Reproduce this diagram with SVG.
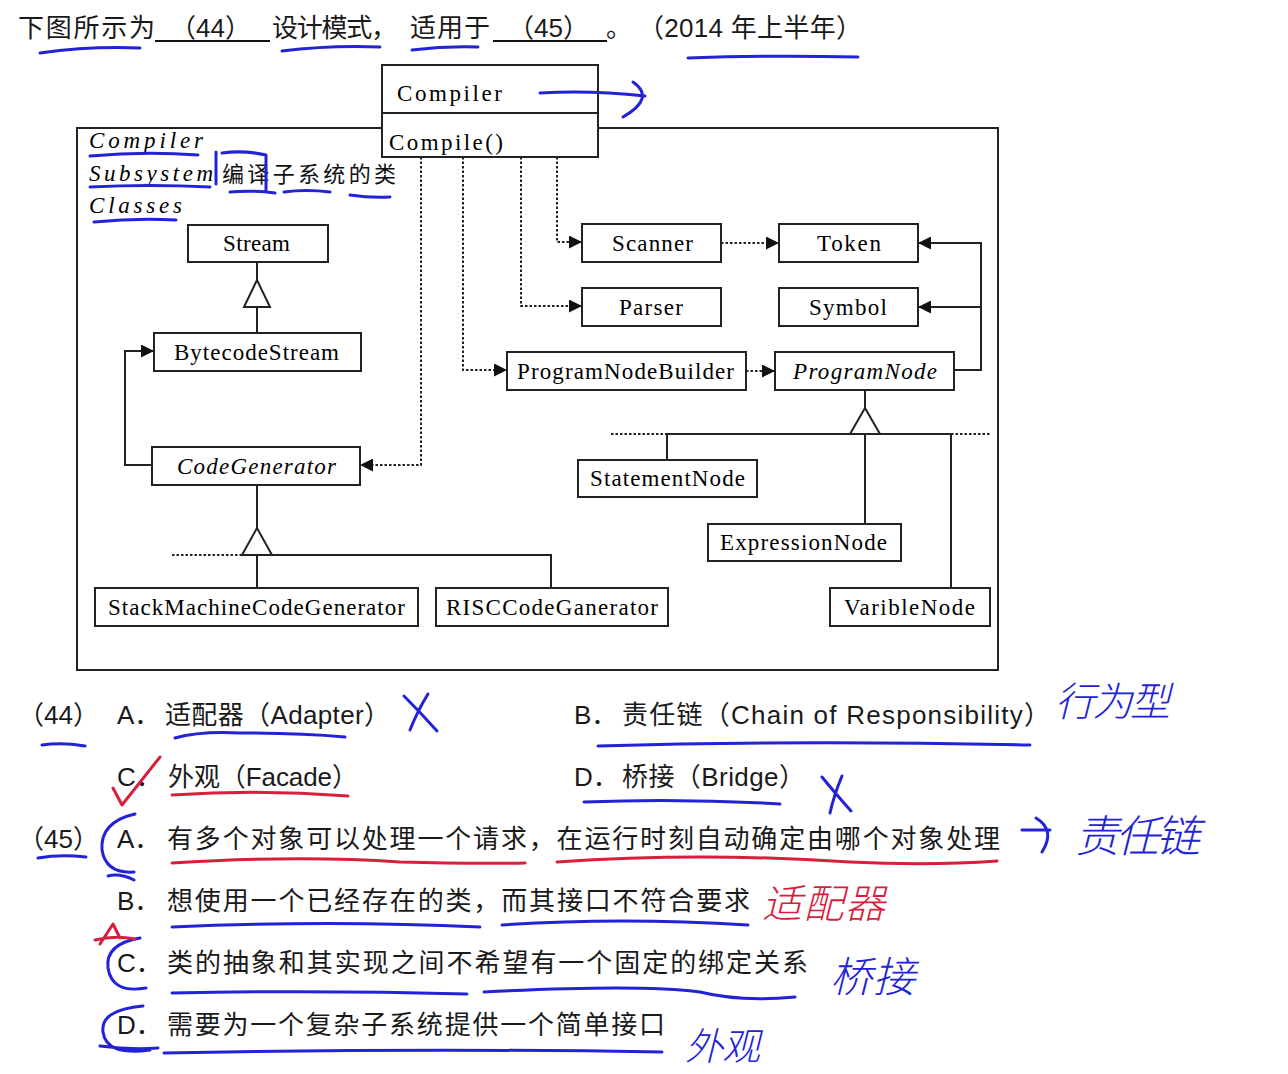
<svg xmlns="http://www.w3.org/2000/svg" width="1288" height="1074" viewBox="0 0 1288 1074">
<style>
.q{font-family:"Liberation Sans","Noto Sans CJK SC",sans-serif;font-size:26px;fill:#1a1a1a}
.box{fill:#fff;stroke:#222;stroke-width:2}
.lbl{font-family:"Liberation Serif","DejaVu Serif",serif;font-size:23px;fill:#000}
.it{font-style:italic}
.ln{fill:none;stroke:#222;stroke-width:2}
.dot{fill:none;stroke:#222;stroke-width:2;stroke-dasharray:2.5 2}
.tri{fill:#fff;stroke:#222;stroke-width:2}
.pen{fill:none;stroke:#2222d6;stroke-width:3;stroke-linecap:round;stroke-linejoin:round}
.red{fill:none;stroke:#d81e3c;stroke-width:3;stroke-linecap:round;stroke-linejoin:round}
.hw{font-family:"Noto Sans CJK SC",sans-serif;font-style:italic;font-weight:300}
</style>
<defs>
<marker id="arr" viewBox="0 0 10 10" refX="10" refY="5" markerWidth="15" markerHeight="13" markerUnits="userSpaceOnUse" orient="auto"><path d="M0,0 L10,5 L0,10 z" fill="#111"/></marker>
</defs>
<rect width="1288" height="1074" fill="#fff"/>

<!-- title -->
<g id="title">
<text class="q" x="18" y="37" textLength="137">下图所示为</text>
<text class="q" x="170" y="37">（44）</text>
<line x1="155" y1="41" x2="270" y2="41" stroke="#111" stroke-width="2"/>
<text class="q" x="272" y="37" textLength="125">设计模式，</text>
<text class="q" x="410" y="37" textLength="80">适用于</text>
<text class="q" x="508" y="37">（45）</text>
<line x1="493" y1="41" x2="607" y2="41" stroke="#111" stroke-width="2"/>
<text class="q" x="606" y="37">。</text>
<text class="q" x="638" y="37" textLength="224">（2014 年上半年）</text>
</g>

<!-- package frame -->
<g id="package">
<rect x="77" y="128" width="921" height="542" fill="none" stroke="#222" stroke-width="2"/>
<text class="lbl it" x="89" y="148" font-size="28" textLength="114">Compiler</text>
<text class="lbl it" x="89" y="181" font-size="28" textLength="124">Subsystem</text>
<text class="lbl it" x="89" y="213" font-size="28" textLength="93">Classes</text>
<text x="222" y="182" font-family="Noto Sans CJK SC,sans-serif" font-size="22" fill="#111" textLength="174">编译子系统的类</text>
</g>

<!-- connectors -->
<g id="connectors">
<path class="ln" d="M152,465 H125 V351 H154" marker-end="url(#arr)"/>
<path class="dot" d="M421,157 V465 H360" marker-end="url(#arr)"/>
<path class="dot" d="M463,157 V370 H507" marker-end="url(#arr)"/>
<path class="dot" d="M521,157 V306 H582" marker-end="url(#arr)"/>
<path class="dot" d="M557,157 V242 H582" marker-end="url(#arr)"/>
<path class="dot" d="M721,243 H779" marker-end="url(#arr)"/>
<path class="dot" d="M746,371 H775" marker-end="url(#arr)"/>
<path class="ln" d="M954,370 H981 V243 H918" marker-end="url(#arr)"/>
<path class="ln" d="M981,307 H918" marker-end="url(#arr)"/>
<path class="ln" d="M257,262 V280 M257,307 V333"/>
<polygon class="tri" points="257,280 244,307 270,307"/>
<path class="ln" d="M865,390 V408 M667,434 H951 M667,434 V460 M865,434 V524 M951,434 V588"/>
<path class="dot" d="M611,434 H667 M951,434 H990"/>
<polygon class="tri" points="865,408 850,434 880,434"/>
<path class="ln" d="M257,485 V528 M257,555 H551 V588 M257,555 V588"/>
<path class="dot" d="M172,555 H242"/>
<polygon class="tri" points="257,528 242,555 272,555"/>
</g>

<!-- nodes -->
<g id="Compiler">
<rect class="box" x="382" y="65" width="216" height="92"/>
<line x1="382" y1="113" x2="598" y2="113" stroke="#222" stroke-width="2"/>
<text class="lbl" x="397" y="101" font-size="27" textLength="105">Compiler</text>
<text class="lbl" x="389" y="150" font-size="27" textLength="114">Compile()</text>
</g>
<g id="Stream"><rect class="box" x="188" y="225" width="140" height="37"/><text class="lbl" x="223" y="251" textLength="67">Stream</text></g>
<g id="BytecodeStream"><rect class="box" x="154" y="333" width="207" height="38"/><text class="lbl" x="174" y="360" textLength="165">BytecodeStream</text></g>
<g id="CodeGenerator"><rect class="box" x="152" y="447" width="208" height="38"/><text class="lbl it" x="177" y="474" textLength="159">CodeGenerator</text></g>
<g id="Scanner"><rect class="box" x="582" y="224" width="139" height="38"/><text class="lbl" x="612" y="251" textLength="81">Scanner</text></g>
<g id="Token"><rect class="box" x="779" y="224" width="139" height="38"/><text class="lbl" x="817" y="251" textLength="64">Token</text></g>
<g id="Parser"><rect class="box" x="582" y="288" width="139" height="38"/><text class="lbl" x="619" y="315" textLength="64">Parser</text></g>
<g id="Symbol"><rect class="box" x="779" y="288" width="139" height="38"/><text class="lbl" x="809" y="315" textLength="78">Symbol</text></g>
<g id="ProgramNodeBuilder"><rect class="box" x="507" y="352" width="239" height="38"/><text class="lbl" x="517" y="379" textLength="217">ProgramNodeBuilder</text></g>
<g id="ProgramNode"><rect class="box" x="775" y="352" width="179" height="38"/><text class="lbl it" x="793" y="379" textLength="144">ProgramNode</text></g>
<g id="StatementNode"><rect class="box" x="578" y="460" width="179" height="37"/><text class="lbl" x="590" y="486" textLength="155">StatementNode</text></g>
<g id="ExpressionNode"><rect class="box" x="708" y="524" width="193" height="37"/><text class="lbl" x="720" y="550" textLength="167">ExpressionNode</text></g>
<g id="VaribleNode"><rect class="box" x="830" y="588" width="160" height="38"/><text class="lbl" x="844" y="615" textLength="131">VaribleNode</text></g>
<g id="StackMachineCodeGenerator"><rect class="box" x="95" y="588" width="323" height="38"/><text class="lbl" x="108" y="615" textLength="297">StackMachineCodeGenerator</text></g>
<g id="RISCCodeGanerator"><rect class="box" x="436" y="588" width="232" height="38"/><text class="lbl" x="446" y="615" textLength="212">RISCCodeGanerator</text></g>

<!-- questions -->
<g id="q44">
<text class="q" x="18" y="724">（44）</text>
<text class="q" x="117" y="724">A．</text>
<text class="q" x="165" y="724" textLength="225">适配器（Adapter）</text>
<text class="q" x="574" y="724">B．</text>
<text class="q" x="622" y="724" textLength="428">责任链（Chain  of  Responsibility）</text>
<text class="q" x="117" y="786">C．</text>
<text class="q" x="168" y="786" textLength="190">外观（Facade）</text>
<text class="q" x="574" y="786">D．</text>
<text class="q" x="622" y="786" textLength="183">桥接（Bridge）</text>
</g>
<g id="q45">
<text class="q" x="18" y="848">（45）</text>
<text class="q" x="117" y="848">A．</text>
<text class="q" x="167" y="848" textLength="833">有多个对象可以处理一个请求，在运行时刻自动确定由哪个对象处理</text>
<text class="q" x="117" y="910">B．</text>
<text class="q" x="167" y="910" textLength="583">想使用一个已经存在的类，而其接口不符合要求</text>
<text class="q" x="117" y="972">C．</text>
<text class="q" x="167" y="972" textLength="641">类的抽象和其实现之间不希望有一个固定的绑定关系</text>
<text class="q" x="117" y="1034">D．</text>
<text class="q" x="167" y="1034" textLength="498">需要为一个复杂子系统提供一个简单接口</text>
</g>

<!-- pen annotations -->
<g id="annotations">
<path class="pen" d="M40,53 Q90,46 140,48 M282,51 Q330,45 380,47 M412,50 Q445,46 478,47 M688,58 Q770,55 858,57"/>
<path class="pen" d="M540,93 Q590,90 645,96 M633,82 Q656,98 623,117"/>
<path class="pen" d="M90,156 Q145,151 198,155 M90,187 Q150,184 210,187 M94,222 Q135,218 176,220"/>
<path class="pen" d="M216,152 V184 M222,153 Q244,150 266,155 V190 M230,192 Q252,190 275,193 M284,192 Q306,189 330,192 M350,195 Q370,198 390,197"/>
<path class="pen" d="M42,745 Q62,742 85,746 M175,738 Q200,731 240,733 Q300,733 345,737 M598,746 Q800,740 1030,745"/>
<path class="pen" d="M404,696 Q420,712 437,731 M428,694 Q418,710 410,730"/>
<path class="pen" d="M584,802 Q680,798 780,804 M822,777 Q835,793 851,811 M842,776 Q834,795 830,813"/>
<path class="pen" d="M38,858 Q60,854 86,857"/>
<path class="pen" d="M135,814 Q100,822 102,850 Q106,874 134,872 M108,876 Q120,873 134,880"/>
<path class="pen" d="M1022,830 H1050 M1036,818 Q1056,830 1042,852"/>
<path class="pen" d="M172,927 Q330,920 480,927 M502,925 Q620,917 748,925"/>
<path class="pen" d="M140,938 Q105,944 108,968 Q112,994 146,988"/>
<path class="pen" d="M172,993 Q320,990 467,994 M484,992 Q640,984 700,992 Q740,1002 795,997"/>
<path class="pen" d="M143,1006 Q100,1010 103,1032 Q106,1056 150,1050 M100,1046 Q130,1050 158,1048"/>
<path class="pen" d="M164,1053 Q420,1048 662,1052"/>
<text class="hw" x="1055" y="716" font-size="40" fill="#2222d6" textLength="115">行为型</text>
<text class="hw" x="1075" y="852" font-size="44" fill="#2222d6" textLength="125">责任链</text>
<text class="hw" x="830" y="992" font-size="42" fill="#2222d6" textLength="85">桥接</text>
<text class="hw" x="685" y="1060" font-size="38" fill="#2222d6" textLength="75">外观</text>
<text class="hw" x="762" y="918" font-size="40" fill="#d81e3c" textLength="123">适配器</text>
<path class="red" d="M113,788 L122,805 L160,757"/>
<path class="red" d="M172,795 Q260,789 348,796"/>
<path class="red" d="M172,863 Q300,855 400,862 Q470,864 525,863 M557,862 Q700,852 850,862 Q930,866 997,861"/>
<path class="red" d="M100,944 L113,924 L120,938 M95,940 Q115,935 135,939"/>
</g>
</svg>
